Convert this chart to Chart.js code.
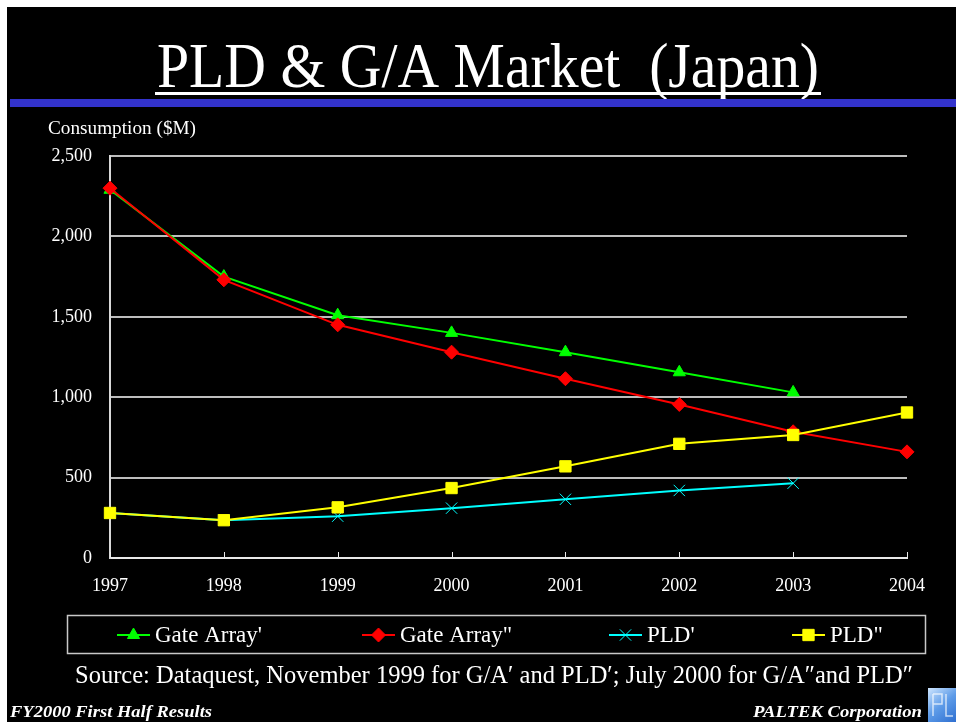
<!DOCTYPE html>
<html>
<head>
<meta charset="utf-8">
<script src="https://cdn.jsdelivr.net/npm/chart.js@4/dist/chart.umd.min.js"></script>
<style>
  html, body { margin: 0; padding: 0; background: #fff; }
  canvas { display: block; }
</style>
</head>
<body>
<canvas id="output" width="956" height="722"></canvas>
<script>
// data
const years = ["1997", "1998", "1999", "2000", "2001", "2002", "2003", "2004"];
const gateArrayOld = [2290, 1750, 1510, 1400, 1280, 1155, 1030, null];
const gateArrayNew = [2300, 1730, 1450, 1280, 1115, 955, 785, 660];
const pldOld = [280, 235, 260, 310, 365, 420, 465, null];
const pldNew = [280, 235, 315, 435, 570, 710, 765, 905];

const serif = '"Liberation Serif", "Times New Roman", serif';

// draw text squeezed/stretched to a given width
function fitText(ctx, text, x, y, width, align) {
  const w = ctx.measureText(text).width;
  const sx = width / w;
  ctx.save();
  let left = x;
  if (align === "center") left = x - width / 2;
  if (align === "right") left = x - width;
  ctx.translate(left, y);
  ctx.scale(sx, 1);
  ctx.textAlign = "left";
  ctx.fillText(text, 0, 0);
  ctx.restore();
}

const series = [
  { label: "Gate Array'", data: gateArrayOld, color: "#00ff00", style: "triangle", radius: 7, order: 3 },
  { label: 'Gate Array"', data: gateArrayNew, color: "#ff0000", style: "rectRot", radius: 7, order: 2 },
  { label: "PLD'", data: pldOld, color: "#00ffff", style: "crossRot", radius: 8, order: 1 },
  { label: 'PLD"', data: pldNew, color: "#ffff00", style: "rect", radius: 8, order: 0 },
];

// slide background, title, legend box, footer
const slidePlugin = {
  id: "slide",
  beforeDraw(chart) {
    const ctx = chart.ctx;
    ctx.save();
    ctx.fillStyle = "#ffffff";
    ctx.fillRect(0, 0, 956, 722);
    ctx.fillStyle = "#000000";
    ctx.fillRect(7, 7, 949, 715);

    // title
    ctx.fillStyle = "#ffffff";
    ctx.font = "64px " + serif;
    ctx.textBaseline = "alphabetic";
    fitText(ctx, "PLD & G/A Market  (Japan)", 488, 87, 662, "center");
    ctx.fillRect(155, 92, 666, 3);

    // blue bar
    ctx.fillStyle = "#3333cc";
    ctx.fillRect(10, 99, 946, 8);

    // axis title
    ctx.fillStyle = "#ffffff";
    ctx.font = "18px " + serif;
    ctx.textAlign = "left";
    fitText(ctx, "Consumption ($M)", 48, 134, 148, "left");
    ctx.restore();
  },
  afterDraw(chart) {
    const ctx = chart.ctx;
    const x = chart.scales.x;
    const area = chart.chartArea;
    ctx.save();

    // small inside tick marks on the x axis
    ctx.strokeStyle = "#e8e8e8";
    ctx.lineWidth = 1;
    x.ticks.forEach((t, i) => {
      const px = Math.round(x.getPixelForTick(i)) + 0.5;
      ctx.beginPath();
      ctx.moveTo(px, area.bottom);
      ctx.lineTo(px, area.bottom - 6);
      ctx.stroke();
    });

    // legend box
    ctx.strokeStyle = "#c8c8c8";
    ctx.lineWidth = 1.5;
    ctx.strokeRect(67.5, 615.5, 858, 38);
    const itemX = [117, 362, 609, 792];
    ctx.font = "23px " + serif;
    ctx.textBaseline = "middle";
    ctx.textAlign = "left";
    series.forEach((s, i) => {
      const lx = itemX[i];
      const ly = 635;
      ctx.strokeStyle = s.color;
      ctx.fillStyle = s.color;
      ctx.lineWidth = 2;
      ctx.beginPath();
      ctx.moveTo(lx, ly);
      ctx.lineTo(lx + 33, ly);
      ctx.stroke();
      ctx.lineWidth = 1;
      Chart.helpers.drawPoint(ctx, { pointStyle: s.style, radius: s.radius, rotation: 0, borderWidth: 1 }, lx + 16.5, ly);
      ctx.fillStyle = "#ffffff";
      ctx.fillText(s.label, lx + 38, ly + 1);
    });

    // source line
    ctx.fillStyle = "#ffffff";
    ctx.font = "25px " + serif;
    ctx.textBaseline = "alphabetic";
    fitText(ctx, "Source: Dataquest, November 1999 for G/A\u2032 and PLD\u2032; July 2000 for G/A\u2033and PLD\u2033", 494, 683, 838, "center");

    // footer
    ctx.font = "italic bold 17px " + serif;
    fitText(ctx, "FY2000 First Half Results", 10, 717, 202, "left");
    fitText(ctx, "PALTEK Corporation", 922, 717, 169, "right");

    // logo block
    const g = ctx.createLinearGradient(928, 688, 956, 722);
    g.addColorStop(0, "#cfe6ff");
    g.addColorStop(0.5, "#5d9be8");
    g.addColorStop(1, "#2f6fd0");
    ctx.fillStyle = g;
    ctx.fillRect(928, 688, 28, 34);
    ctx.strokeStyle = "rgba(255,255,255,0.7)";
    ctx.lineWidth = 1.5;
    ctx.beginPath();
    ctx.moveTo(933, 694); ctx.lineTo(933, 716);
    ctx.moveTo(933, 694); ctx.lineTo(942, 694); ctx.lineTo(942, 704); ctx.lineTo(933, 704);
    ctx.moveTo(946, 694); ctx.lineTo(946, 716); ctx.lineTo(953, 716);
    ctx.stroke();
    ctx.restore();
  },
};

new Chart(document.getElementById("output"), {
  type: "line",
  data: {
    labels: years,
    datasets: series.map((s) => ({
      label: s.label,
      data: s.data,
      borderColor: s.color,
      backgroundColor: s.color,
      borderWidth: 2,
      pointStyle: s.style,
      pointRadius: s.radius,
      pointBorderWidth: 1,
      pointBorderColor: s.color,
      pointBackgroundColor: s.color,
      tension: 0,
      order: s.order,
    })),
  },
  options: {
    responsive: false,
    animation: false,
    layout: { padding: { left: 0, top: 156, right: 49, bottom: 124 } },
    plugins: {
      legend: { display: false },
      tooltip: { enabled: false },
    },
    scales: {
      x: {
        type: "category",
        offset: false,
        afterFit: (scale) => { scale.height = 40; },
        grid: { display: false, drawTicks: false },
        border: { display: true, color: "#e8e8e8", width: 2 },
        ticks: {
          color: "#ffffff",
          font: { family: serif, size: 18 },
          padding: 17,
          maxRotation: 0,
          autoSkip: false,
        },
      },
      y: {
        min: 0,
        max: 2500,
        afterFit: (scale) => { scale.width = 110; },
        grid: {
          drawTicks: false,
          color: (c) => (c.tick && c.tick.value === 0 ? "#e8e8e8" : "#bdbdbd"),
          lineWidth: 2,
        },
        border: { display: true, color: "#d8d8d8", width: 2 },
        ticks: {
          stepSize: 500,
          color: "#ffffff",
          font: { family: serif, size: 18 },
          padding: 18,
          callback: (v) => v.toLocaleString("en-US"),
        },
      },
    },
  },
  plugins: [slidePlugin],
});
</script>
</body>
</html>
